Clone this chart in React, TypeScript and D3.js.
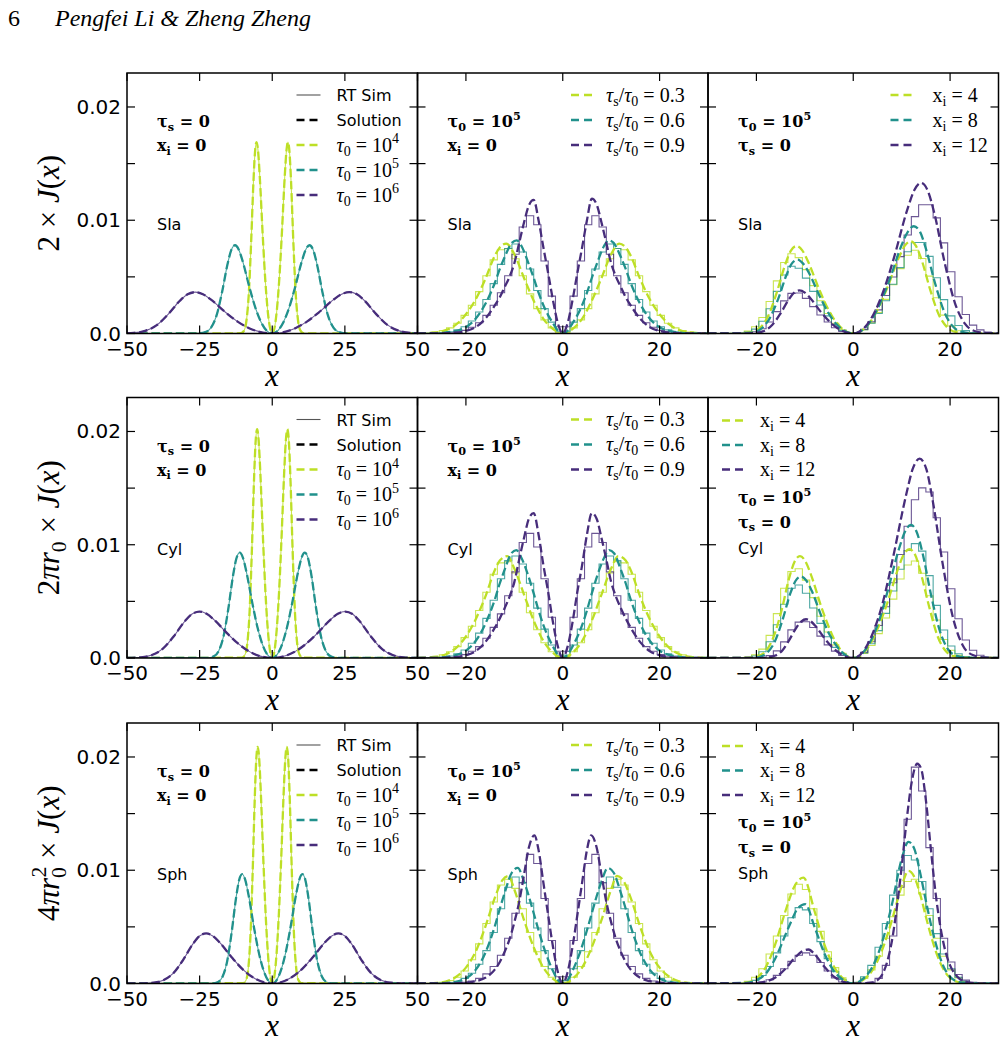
import * as d3 from "d3";

// ---- series styling / labels ----
const COLORS = ["#bddf26", "#21918c", "#472d7b"];
const SIM_GRAY = "#555555";
const geomNames = ["Sla", "Cyl", "Sph"];
const tau0Exps = ["4", "5", "6"];
const scatRatios = ["0.3", "0.6", "0.9"];
const xiValues = ["4", "8", "12"];

// ---- axes ----
const yTicks = [0, 0.005, 0.01, 0.015, 0.02];
const yTickLabels = [
  { v: 0, t: "0.0" },
  { v: 0.01, t: "0.01" },
  { v: 0.02, t: "0.02" },
];
const xTicksWide = [-50, -25, 0, 25, 50];
const xTicksNarrow = [-20, 0, 20];
const HIST_START = -30;
const HIST_WIDTH = 1.5;
const Y_UNIT = 1e-3; // all J values below are in units of 1e-3

// ---- left column: tau0 = 1e4, 1e5, 1e6 (x, J) ----
const slaTau4 = [[-50,0],[-10.8,0.02],[-9.72,0.25],[-8.91,1.08],[-8.1,3.41],[-7.29,7.91],[-6.48,13.37],[-5.94,16.0],[-5.4,16.9],[-4.86,16.06],[-4.32,13.96],[-3.24,8.48],[-2.43,4.85],[-1.62,2.16],[0,0],[1.62,2.16],[2.43,4.85],[3.24,8.48],[4.32,13.96],[4.86,16.06],[5.4,16.9],[5.94,16.0],[6.48,13.37],[7.29,7.91],[8.1,3.41],[8.91,1.08],[9.72,0.25],[10.8,0.02],[50,0]];
const slaTau5 = [[-50,0],[-25.6,0.01],[-23.04,0.12],[-21.12,0.5],[-19.2,1.57],[-17.28,3.65],[-15.36,6.16],[-14.08,7.38],[-12.8,7.79],[-11.52,7.4],[-10.24,6.43],[-7.68,3.91],[-5.76,2.24],[-3.84,1.0],[0,0],[3.84,1.0],[5.76,2.24],[7.68,3.91],[10.24,6.43],[11.52,7.4],[12.8,7.79],[14.08,7.38],[15.36,6.16],[17.28,3.65],[19.2,1.57],[21.12,0.5],[23.04,0.12],[25.6,0.01],[50,0]];
const slaTau6 = [[-50,0.03],[-47.7,0.055],[-43.73,0.23],[-39.75,0.74],[-35.78,1.71],[-31.8,2.89],[-29.15,3.46],[-26.5,3.65],[-23.85,3.47],[-21.2,3.01],[-15.9,1.83],[-11.93,1.05],[-7.95,0.47],[0,0],[7.95,0.47],[11.93,1.05],[15.9,1.83],[21.2,3.01],[23.85,3.47],[26.5,3.65],[29.15,3.46],[31.8,2.89],[35.78,1.71],[39.75,0.74],[43.73,0.23],[47.7,0.055],[50,0.03]];
const cylTau4 = [[-50,0],[-10.4,0.03],[-9.36,0.3],[-8.58,1.29],[-7.8,4.08],[-7.02,9.45],[-6.24,15.98],[-5.72,19.13],[-5.2,20.2],[-4.68,19.19],[-4.16,16.69],[-3.12,10.14],[-2.34,5.8],[-1.56,2.59],[0,0],[1.56,2.59],[2.34,5.8],[3.12,10.14],[4.16,16.69],[4.68,19.19],[5.2,20.2],[5.72,19.13],[6.24,15.98],[7.02,9.45],[7.8,4.08],[8.58,1.29],[9.36,0.3],[10.4,0.03],[50,0]];
const cylTau5 = [[-50,0],[-22.4,0.01],[-20.16,0.14],[-18.48,0.6],[-16.8,1.88],[-15.12,4.35],[-13.44,7.36],[-12.32,8.81],[-11.2,9.3],[-10.08,8.84],[-8.96,7.68],[-6.72,4.67],[-5.04,2.67],[-3.36,1.19],[0,0],[3.36,1.19],[5.04,2.67],[6.72,4.67],[8.96,7.68],[10.08,8.84],[11.2,9.3],[12.32,8.81],[13.44,7.36],[15.12,4.35],[16.8,1.88],[18.48,0.6],[20.16,0.14],[22.4,0.01],[50,0]];
const cylTau6 = [[-50,0.005],[-45.18,0.06],[-41.42,0.26],[-37.65,0.83],[-33.89,1.92],[-30.12,3.24],[-27.61,3.88],[-25.1,4.1],[-22.59,3.9],[-20.08,3.39],[-15.06,2.06],[-11.3,1.18],[-7.53,0.52],[0,0],[7.53,0.52],[11.3,1.18],[15.06,2.06],[20.08,3.39],[22.59,3.9],[25.1,4.1],[27.61,3.88],[30.12,3.24],[33.89,1.92],[37.65,0.83],[41.42,0.26],[45.18,0.06],[50,0.005]];
const sphTau4 = [[-50,0],[-10,0.03],[-9,0.31],[-8.25,1.34],[-7.5,4.22],[-6.75,9.78],[-6,16.53],[-5.5,19.79],[-5,20.9],[-4.5,19.86],[-4,17.26],[-3,10.49],[-2.25,6.0],[-1.5,2.68],[0,0],[1.5,2.68],[2.25,6.0],[3,10.49],[4,17.26],[4.5,19.86],[5,20.9],[5.5,19.79],[6,16.53],[6.75,9.78],[7.5,4.22],[8.25,1.34],[9,0.31],[10,0.03],[50,0]];
const sphTau5 = [[-50,0],[-20.7,0.01],[-18.63,0.14],[-17.08,0.62],[-15.53,1.95],[-13.97,4.52],[-12.42,7.63],[-11.39,9.14],[-10.35,9.65],[-9.32,9.17],[-8.28,7.97],[-6.21,4.84],[-4.66,2.77],[-3.1,1.24],[0,0],[3.1,1.24],[4.66,2.77],[6.21,4.84],[8.28,7.97],[9.32,9.17],[10.35,9.65],[11.39,9.14],[12.42,7.63],[13.97,4.52],[15.53,1.95],[17.08,0.62],[18.63,0.14],[20.7,0.01],[50,0]];
const sphTau6 = [[-50,0],[-45.5,0.006],[-40.95,0.07],[-37.54,0.28],[-34.13,0.89],[-30.71,2.07],[-27.3,3.5],[-25.03,4.19],[-22.75,4.42],[-20.48,4.2],[-18.2,3.65],[-13.65,2.22],[-10.24,1.27],[-6.83,0.57],[0,0],[6.83,0.57],[10.24,1.27],[13.65,2.22],[18.2,3.65],[20.48,4.2],[22.75,4.42],[25.03,4.19],[27.3,3.5],[30.71,2.07],[34.13,0.89],[37.54,0.28],[40.95,0.07],[45.5,0.006],[50,0]];

// ---- middle column: tau_s/tau0 = 0.3, 0.6, 0.9 ----
const slaScat03 = [[-30,0],[-29,0.02],[-26,0.1],[-24,0.32],[-22,0.8],[-20,1.7],[-18,3.0],[-16,4.8],[-14,6.9],[-13,7.6],[-11.65,7.94],[-10,7.0],[-8,4.9],[-6,2.9],[-4,1.3],[-2,0.4],[0,0],[2,0.4],[4,1.3],[6,2.9],[8,4.9],[10,7.0],[11.65,7.94],[13,7.6],[14,6.9],[16,4.8],[18,3.0],[20,1.7],[22,0.8],[24,0.32],[26,0.1],[29,0.02],[30,0]];
const slaScat06 = [[-30,0],[-27,0],[-23,0.15],[-20,0.56],[-18,1.3],[-16,2.6],[-14,4.5],[-13,5.7],[-12,6.75],[-10.5,8.0],[-9.5,8.23],[-8.5,7.7],[-7,6.1],[-6,4.9],[-5,3.6],[-4,2.5],[-3,1.6],[-2,0.9],[-1,0.25],[0,0],[1,0.25],[2,0.9],[3,1.6],[4,2.5],[5,3.6],[6,4.9],[7,6.1],[8.5,7.7],[9.5,8.23],[10.5,8.0],[12,6.75],[13,5.7],[14,4.5],[16,2.6],[18,1.3],[20,0.56],[23,0.15],[27,0],[30,0]];
const slaScat09 = [[-30,0],[-27,0],[-23,0.05],[-20,0.22],[-18,0.56],[-16,1.3],[-14,2.5],[-13,3.2],[-12,4.1],[-11,5.0],[-10,6.2],[-9,8.0],[-8,9.8],[-7,11.3],[-6,11.8],[-5,10.0],[-4,7.6],[-3,5.3],[-2,2.9],[-1,0.9],[0,0],[1,0.9],[2,2.9],[3,5.3],[4,7.6],[5,10.0],[6,11.9],[7,11.4],[8,9.8],[9,8.0],[10,6.2],[11,5.0],[12,4.1],[13,3.2],[14,2.5],[16,1.3],[18,0.56],[20,0.22],[23,0.05],[27,0],[30,0]];
const cylScat03 = [[-30,0],[-29,0.02],[-26,0.11],[-24,0.36],[-22,0.9],[-20,1.9],[-18,3.4],[-16,5.4],[-14,7.8],[-13,8.6],[-11.45,9.0],[-10,7.9],[-8,5.6],[-6,3.3],[-4,1.5],[-2,0.45],[0,0],[2,0.45],[4,1.5],[6,3.3],[8,5.6],[10,7.9],[11.45,9.0],[13,8.6],[14,7.8],[16,5.4],[18,3.4],[20,1.9],[22,0.9],[24,0.36],[26,0.11],[29,0.02],[30,0]];
const cylScat06 = [[-30,0],[-27,0],[-23,0.17],[-20,0.65],[-18,1.5],[-16,3.0],[-14,5.2],[-13,6.6],[-12,7.8],[-10.6,9.25],[-9.6,9.53],[-8.6,8.9],[-7,7.1],[-6,5.7],[-5,4.2],[-4,2.9],[-3,1.85],[-2,1.0],[-1,0.3],[0,0],[1,0.3],[2,1.0],[3,1.85],[4,2.9],[5,4.2],[6,5.7],[7,7.1],[8.6,8.9],[9.6,9.53],[10.6,9.25],[12,7.8],[13,6.6],[14,5.2],[16,3.0],[18,1.5],[20,0.65],[23,0.17],[27,0],[30,0]];
const cylScat09 = [[-30,0],[-27,0],[-23,0.05],[-20,0.24],[-18,0.6],[-16,1.4],[-14,2.7],[-13,3.5],[-12,4.4],[-11,5.4],[-10,6.7],[-9,8.7],[-8,10.6],[-7,12.3],[-6,12.8],[-5,10.9],[-4,8.2],[-3,5.8],[-2,3.1],[-1,1.0],[0,0],[1,1.0],[2,3.1],[3,5.8],[4,8.2],[5,10.9],[6,12.8],[7,12.3],[8,10.6],[9,8.7],[10,6.7],[11,5.4],[12,4.4],[13,3.5],[14,2.7],[16,1.4],[18,0.6],[20,0.24],[23,0.05],[27,0],[30,0]];
const sphScat03 = [[-30,0],[-29,0],[-26,0.06],[-24,0.2],[-22,0.6],[-20,1.4],[-18,2.8],[-16,5.0],[-14,7.6],[-12.5,9.1],[-11.2,9.5],[-10,8.3],[-8,5.6],[-6,3.2],[-4,1.4],[-2,0.4],[0,0],[2,0.4],[4,1.4],[6,3.2],[8,5.6],[10,8.3],[11.2,9.5],[12.5,9.1],[14,7.6],[16,5.0],[18,2.8],[20,1.4],[22,0.6],[24,0.2],[26,0.06],[29,0],[30,0]];
const sphScat06 = [[-30,0],[-25,0.02],[-22,0.15],[-20,0.45],[-18,1.2],[-16,2.7],[-15,3.8],[-14,5.1],[-13,6.6],[-12,8.0],[-10.5,9.8],[-9.3,10.2],[-8,9.0],[-7,7.7],[-6,6.2],[-5,4.7],[-4,3.3],[-3,2.1],[-2,1.1],[-1,0.3],[0,0],[1,0.3],[2,1.1],[3,2.1],[4,3.3],[5,4.7],[6,6.2],[7,7.7],[8,9.0],[9.3,10.2],[10.5,9.8],[12,8.0],[13,6.6],[14,5.1],[15,3.8],[16,2.7],[18,1.2],[20,0.45],[22,0.15],[25,0.02],[30,0]];
const sphScat09 = [[-30,0],[-23,0.01],[-20,0.07],[-18,0.2],[-16,0.5],[-15,0.8],[-14,1.25],[-13,1.9],[-12,2.8],[-11,3.9],[-10,5.4],[-9,7.2],[-8,9.6],[-7,12.0],[-5.86,13.07],[-5,11.8],[-4,8.9],[-3,6.0],[-2,3.2],[-1,1.0],[0,0],[1,1.0],[2,3.2],[3,6.0],[4,8.9],[5,11.8],[5.86,13.07],[7,12.0],[8,9.6],[9,7.2],[10,5.4],[11,3.9],[12,2.8],[13,1.9],[14,1.25],[15,0.8],[16,0.5],[18,0.2],[20,0.07],[23,0.01],[30,0]];

// RT histograms, 40 bins of width 1.5 from x = -30
const slaScat03Hist = [0.02,0.05,0.12,0.25,0.5,0.9,1.6,2.5,3.7,5.1,6.5,7.4,7.5,6.6,5.1,3.5,2.2,1.2,0.5,0.1,0.1,0.5,1.2,2.2,3.5,5.1,6.6,7.5,7.4,6.5,5.1,3.7,2.5,1.6,0.9,0.5,0.25,0.12,0.05,0.02];
const slaScat06Hist = [0,0.01,0.03,0.08,0.16,0.32,0.6,1.1,1.9,3.0,4.4,6.1,7.5,7.9,7.2,5.7,3.8,2.2,1.0,0.2,0.2,1.0,2.2,3.8,5.7,7.2,7.9,7.5,6.1,4.4,3.0,1.9,1.1,0.6,0.32,0.16,0.08,0.03,0.01,0];
const slaScat09Hist = [0,0,0.01,0.02,0.07,0.14,0.28,0.55,0.95,1.6,2.5,3.6,5.1,7.0,9.4,10.4,9.6,6.4,3.3,0.6,0.6,3.3,6.4,9.6,10.4,9.4,7.0,5.1,3.6,2.5,1.6,0.95,0.55,0.28,0.14,0.07,0.02,0.01,0,0];
const cylScat03Hist = [0.02,0.05,0.13,0.28,0.55,1.0,1.8,2.8,4.2,5.8,7.4,8.4,8.5,7.5,5.8,4.0,2.5,1.35,0.55,0.1,0.1,0.55,1.35,2.5,4.0,5.8,7.5,8.5,8.4,7.4,5.8,4.2,2.8,1.8,1.0,0.55,0.28,0.13,0.05,0.02];
const cylScat06Hist = [0,0.01,0.03,0.09,0.18,0.37,0.7,1.3,2.2,3.5,5.1,7.0,8.6,9.0,8.3,6.6,4.4,2.55,1.15,0.25,0.25,1.15,2.55,4.4,6.6,8.3,9.0,8.6,7.0,5.1,3.5,2.2,1.3,0.7,0.37,0.18,0.09,0.03,0.01,0];
const cylScat09Hist = [0,0,0.01,0.03,0.07,0.15,0.3,0.6,1.0,1.75,2.7,3.9,5.5,7.6,10.2,11.0,9.8,7.0,3.6,0.6,0.6,3.6,7.0,9.8,11.0,10.2,7.6,5.5,3.9,2.7,1.75,1.0,0.6,0.3,0.15,0.07,0.03,0.01,0,0];
const sphScat03Hist = [0,0.01,0.04,0.1,0.25,0.55,1.1,2.1,3.5,5.3,7.2,8.7,9.2,8.4,6.6,4.5,2.8,1.5,0.55,0.1,0.1,0.55,1.5,2.8,4.5,6.6,8.4,9.2,8.7,7.2,5.3,3.5,2.1,1.1,0.55,0.25,0.1,0.04,0.01,0];
const sphScat06Hist = [0,0,0.01,0.03,0.09,0.2,0.45,0.9,1.7,2.9,4.5,6.6,8.5,9.4,8.9,7.1,4.9,2.9,1.3,0.25,0.25,1.3,2.9,4.9,7.1,8.9,9.4,8.5,6.6,4.5,2.9,1.7,0.9,0.45,0.2,0.09,0.03,0.01,0,0];
const sphScat09Hist = [0,0,0,0,0.02,0.05,0.1,0.22,0.45,0.85,1.5,2.5,4.0,6.2,8.9,11.4,10.6,7.5,3.8,0.6,0.6,3.8,7.5,10.6,11.4,8.9,6.2,4.0,2.5,1.5,0.85,0.45,0.22,0.1,0.05,0.02,0,0,0,0];

// ---- right column: x_i = 4, 8, 12 ----
const slaXi4 = [[-30,0],[-23.4,0.01],[-21.1,0.12],[-19.3,0.49],[-17.55,1.56],[-15.8,3.62],[-14.04,6.11],[-12.87,7.32],[-11.7,7.73],[-10.53,7.34],[-9.36,6.38],[-7.02,3.88],[-5.27,2.22],[-3.51,0.99],[0,0],[3.54,1.04],[5.31,2.34],[7.08,4.09],[9.44,6.72],[10.62,7.73],[11.8,8.14],[12.98,7.71],[14.16,6.44],[15.93,3.81],[17.7,1.64],[19.47,0.52],[21.24,0.12],[23.6,0.01],[30,0]];
const slaXi8 = [[-30,0],[-23,0.01],[-20.7,0.1],[-19,0.42],[-17.3,1.32],[-15.5,3.05],[-13.8,5.16],[-12.7,6.17],[-11.5,6.52],[-10.4,6.19],[-9.2,5.39],[-6.9,3.27],[-5.2,1.87],[-3.5,0.83],[0,0],[3.8,1.21],[5.6,2.72],[7.5,4.75],[10,7.82],[11.3,9.0],[12.5,9.47],[13.8,8.97],[15,7.49],[16.9,4.43],[18.8,1.91],[20.6,0.61],[22.5,0.14],[25,0.01],[30,0]];
const slaXi12 = [[-30,0],[-22.2,0],[-20,0.06],[-18.3,0.24],[-16.7,0.77],[-15,1.78],[-13.3,3.01],[-12.2,3.6],[-11.1,3.8],[-10,3.61],[-8.9,3.14],[-6.7,1.91],[-5,1.09],[-3.3,0.49],[0,0],[4.2,1.7],[6.3,3.82],[8.4,6.68],[11.2,10.99],[12.6,12.64],[14,13.3],[15.4,12.6],[16.8,10.52],[18.9,6.22],[21,2.69],[23.1,0.85],[25.2,0.2],[28,0.02],[30,0]];
const cylXi4 = [[-30,0],[-21.9,0.01],[-19.8,0.14],[-18.1,0.58],[-16.5,1.82],[-14.8,4.21],[-13.2,7.12],[-12.1,8.52],[-11,9.0],[-9.9,8.55],[-8.8,7.43],[-6.6,4.52],[-4.9,2.58],[-3.3,1.15],[0,0],[3.5,1.23],[5.2,2.76],[7,4.82],[9.3,7.93],[10.4,9.12],[11.6,9.6],[12.8,9.09],[13.9,7.59],[15.7,4.49],[17.4,1.94],[19.1,0.61],[20.9,0.14],[23.2,0.01],[30,0]];
const cylXi8 = [[-30,0],[-21.6,0.01],[-19.4,0.11],[-17.8,0.46],[-16.2,1.45],[-14.6,3.37],[-13,5.7],[-11.9,6.82],[-10.8,7.2],[-9.7,6.84],[-8.6,5.95],[-6.5,3.61],[-4.9,2.07],[-3.2,0.92],[0,0],[3.6,1.5],[5.4,3.37],[7.1,5.9],[9.5,9.71],[10.7,11.16],[11.9,11.75],[13.1,11.13],[14.3,9.29],[16.1,5.5],[17.9,2.37],[19.6,0.75],[21.4,0.18],[23.8,0.02],[30,0]];
const cylXi12 = [[-30,0],[-19.5,0],[-17.6,0.05],[-16.1,0.22],[-14.6,0.69],[-13.2,1.6],[-11.7,2.71],[-10.7,3.24],[-9.75,3.42],[-8.8,3.25],[-7.8,2.82],[-5.9,1.72],[-4.4,0.98],[-2.9,0.44],[0,0],[4.1,2.25],[6.2,5.05],[8.2,8.84],[11,14.54],[12.3,16.72],[13.7,17.6],[15.1,16.67],[16.4,13.92],[18.5,8.24],[20.6,3.56],[22.6,1.13],[24.7,0.26],[27.4,0.02],[30,0]];
const sphXi4 = [[-30,0],[-25,0],[-22,0.1],[-20,0.45],[-18,1.5],[-16,3.6],[-15,5.0],[-14,6.4],[-12,8.7],[-10.3,9.35],[-8,6.4],[-6,3.5],[-4,1.5],[-2,0.4],[0,0],[2,0.3],[4,1.2],[6,3.0],[8,5.6],[10,8.6],[11.4,9.94],[12.5,9.5],[14,7.6],[15,5.9],[16,4.3],[17,2.9],[18,1.8],[19,1.0],[20,0.5],[22,0.1],[24,0.02],[30,0]];
const sphXi8 = [[-30,0],[-22,0.06],[-20,0.3],[-18,0.9],[-16,2.3],[-14,4.3],[-13,5.3],[-11.5,6.6],[-9.9,7.0],[-8,5.0],[-6,2.7],[-4,1.1],[-2,0.3],[0,0],[2,0.4],[4,1.5],[6,3.7],[8,7.0],[10,11.0],[11.4,12.5],[12.5,12.0],[14,9.4],[15,7.3],[16,5.3],[17,3.6],[18,2.2],[19,1.2],[20,0.6],[22,0.12],[24,0.02],[30,0]];
const sphXi12 = [[-30,0],[-22,0],[-20,0.05],[-18,0.18],[-16,0.55],[-14,1.3],[-12,2.3],[-10.5,2.85],[-9.25,3.0],[-8,2.6],[-6,1.5],[-4,0.6],[-2,0.15],[0,0],[4,0.1],[5,0.3],[6,0.8],[7,1.9],[8,3.8],[9,6.7],[10,10.3],[11,14.3],[12,17.6],[13.2,19.4],[14,19.0],[15,16.2],[16,12.0],[17,8.0],[18,5.0],[19,2.9],[20,1.6],[21,0.85],[22,0.4],[24,0.08],[26,0.01],[30,0]];

const slaXi4Hist = [0,0,0,0.01,0.06,0.21,0.6,1.41,2.82,4.65,6.27,7.04,6.7,5.64,4.23,2.89,1.76,0.9,0.32,0.04,0.04,0.34,0.94,1.84,3.01,4.3,5.73,6.91,7.35,6.62,5.07,3.16,1.62,0.66,0.24,0.07,0.01,0,0,0];
const slaXi8Hist = [0,0,0,0.01,0.04,0.13,0.39,1.08,2.19,3.72,5.16,5.94,5.76,4.89,3.72,2.52,1.56,0.78,0.28,0.03,0.03,0.33,0.9,1.76,2.89,4.35,5.82,7.22,8.04,8.04,6.81,4.92,2.99,1.56,0.7,0.25,0.08,0.02,0,0];
const slaXi12Hist = [0,0,0,0,0.01,0.04,0.15,0.42,1.02,1.93,2.88,3.54,3.58,3.1,2.37,1.64,1.02,0.51,0.18,0.02,0.04,0.37,1.04,2.09,3.36,4.99,6.79,8.7,10.32,11.37,11.37,10.21,8.0,5.45,3.25,1.68,0.74,0.32,0.12,0.03];
const cylXi4Hist = [0,0,0,0,0.02,0.08,0.28,0.78,2.0,3.92,6.16,7.64,7.88,6.88,5.33,3.68,2.3,1.16,0.42,0.05,0.04,0.4,1.1,2.15,3.53,5.2,6.97,8.21,8.56,7.48,5.5,3.35,1.63,0.69,0.23,0.07,0.02,0,0,0];
const cylXi8Hist = [0,0,0,0,0.01,0.05,0.18,0.55,1.43,2.93,4.75,6.16,6.44,5.72,4.42,3.06,1.87,0.94,0.36,0.04,0.05,0.45,1.26,2.42,3.94,5.91,7.83,9.49,10.1,9.44,7.27,4.65,2.47,1.06,0.37,0.12,0.03,0,0,0];
const cylXi12Hist = [0,0,0,0,0,0,0.01,0.05,0.21,0.63,1.42,2.48,3.17,3.2,2.69,1.93,1.16,0.61,0.22,0.02,0.06,0.51,1.43,2.87,4.53,6.64,9.14,11.63,13.97,15.02,14.65,12.38,9.36,6.12,3.47,1.59,0.68,0.24,0.08,0.02];
const sphXi4Hist = [0,0,0,0.02,0.06,0.2,0.55,1.3,2.6,4.2,6.0,7.9,8.76,8.3,6.6,4.6,2.8,1.4,0.5,0.08,0.06,0.45,1.2,2.4,4.0,5.9,7.8,9.0,9.2,7.9,6.0,4.0,2.4,1.2,0.5,0.18,0.06,0.02,0,0];
const sphXi8Hist = [0,0,0,0,0.02,0.08,0.28,0.7,1.5,2.7,4.2,5.8,6.7,6.5,5.3,3.7,2.2,1.05,0.35,0.05,0.1,0.6,1.6,3.2,5.3,7.8,10.0,11.3,10.9,9.0,6.6,4.4,2.6,1.3,0.55,0.2,0.06,0.02,0,0];
const sphXi12Hist = [0,0,0,0,0,0.01,0.04,0.13,0.33,0.72,1.3,1.95,2.5,2.7,2.5,1.85,1.1,0.5,0.13,0.02,0,0.02,0.1,0.45,1.6,4.2,8.5,14.5,19.1,17.0,12.0,7.5,4.0,1.9,0.8,0.3,0.1,0.03,0,0];

const solutionTable = [
  [[slaTau4, slaTau5, slaTau6], [slaScat03, slaScat06, slaScat09], [slaXi4, slaXi8, slaXi12]],
  [[cylTau4, cylTau5, cylTau6], [cylScat03, cylScat06, cylScat09], [cylXi4, cylXi8, cylXi12]],
  [[sphTau4, sphTau5, sphTau6], [sphScat03, sphScat06, sphScat09], [sphXi4, sphXi8, sphXi12]],
];
const histTable = [
  [null, [slaScat03Hist, slaScat06Hist, slaScat09Hist], [slaXi4Hist, slaXi8Hist, slaXi12Hist]],
  [null, [cylScat03Hist, cylScat06Hist, cylScat09Hist], [cylXi4Hist, cylXi8Hist, cylXi12Hist]],
  [null, [sphScat03Hist, sphScat06Hist, sphScat09Hist], [sphXi4Hist, sphXi8Hist, sphXi12Hist]],
];

// ---- layout ----
const LEFTS = [127, 417.5, 708];
const TOPS = [73, 397.5, 723];
const PW = 290.5;
const PH = 260.5;
const SANS = "'DejaVu Sans', sans-serif";
const SERIF = "'Liberation Serif', 'DejaVu Serif', serif";
const BOLD_SERIF = "'DejaVu Serif', serif";
const DASH = "8.5,3.7";

type Seg = { t: string; i?: boolean; b?: "sub" | "sup"; dx?: number };

function tspans(segs: Seg[], size: number) {
  let cur = 0;
  return segs.map((s, k) => {
    const target = s.b === "sub" ? size * 0.22 : s.b === "sup" ? -size * 0.42 : 0;
    const dy = target - cur;
    cur = target;
    return (
      <tspan
        key={k}
        dy={dy || undefined}
        dx={s.dx}
        fontStyle={s.i ? "italic" : undefined}
        fontSize={s.b ? size * 0.7 : undefined}
      >
        {s.t}
      </tspan>
    );
  });
}

const yLabelSegs: Seg[][] = [
  [{ t: "2 × " }, { t: "J", i: true }, { t: "(" }, { t: "x", i: true }, { t: ")" }],
  [{ t: "2" }, { t: "πr", i: true }, { t: "0", b: "sub" }, { t: " × " }, { t: "J", i: true }, { t: "(" }, { t: "x", i: true }, { t: ")" }],
  [{ t: "4" }, { t: "πr", i: true }, { t: "0", b: "sub" }, { t: "2", b: "sup", dx: -10.5 }, { t: " × " }, { t: "J", i: true }, { t: "(" }, { t: "x", i: true }, { t: ")" }],
];

function legendSegs(col: number, k: number): Seg[] {
  if (col === 0) return [{ t: "τ", i: true }, { t: "0", b: "sub" }, { t: " = 10" }, { t: tau0Exps[k], b: "sup" }];
  if (col === 1) return [{ t: "τ", i: true }, { t: "s", b: "sub" }, { t: "/" }, { t: "τ", i: true }, { t: "0", b: "sub" }, { t: " = " + scatRatios[k] }];
  return [{ t: "x" }, { t: "i", b: "sub" }, { t: " = " + xiValues[k] }];
}

const tauS0: Seg[] = [{ t: "τ" }, { t: "s", b: "sub" }, { t: " = 0" }];
const xi0: Seg[] = [{ t: "x" }, { t: "i", b: "sub" }, { t: " = 0" }];
const tau05: Seg[] = [{ t: "τ" }, { t: "0", b: "sub" }, { t: " = 10" }, { t: "5", b: "sup" }];

function Panel({ row, col }: { row: number; col: number }) {
  const left = LEFTS[col];
  const top = TOPS[row];
  const bottom = top + PH;
  const right = left + PW;
  const x = d3.scaleLinear().domain(col === 0 ? [-50, 50] : [-30, 30]).range([left, right]);
  const y = d3.scaleLinear().domain([0, 0.023]).range([bottom, top]);
  const xTicks = col === 0 ? xTicksWide : xTicksNarrow;

  const line = d3
    .line<number[]>()
    .x((d) => x(d[0]))
    .y((d) => y(d[1] * Y_UNIT))
    .curve(d3.curveMonotoneX);
  const step = d3
    .line<number[]>()
    .x((d) => x(d[0]))
    .y((d) => y(d[1] * Y_UNIT))
    .curve(d3.curveStepAfter);

  const sols = solutionTable[row][col];
  const hists = histTable[row][col];
  const clipId = `clip-${row}-${col}`;

  // legend placement
  let hx0: number, tx: number, ly0: number, lstep: number;
  if (col === 0) { hx0 = right - 121; tx = right - 81; ly0 = top + 22; lstep = 25; }
  else if (col === 1) { hx0 = right - 137; tx = right - 102; ly0 = top + 22; lstep = 25; }
  else if (row === 0) { hx0 = right - 108; tx = right - 66; ly0 = top + 22; lstep = 25; }
  else { hx0 = left + 14; tx = left + 52; ly0 = top + 23; lstep = 24.5; }

  const legendRows: { kind: "sim" | "sol" | "series"; k: number }[] =
    col === 0
      ? [{ kind: "sim", k: 0 }, { kind: "sol", k: 0 }, { kind: "series", k: 0 }, { kind: "series", k: 1 }, { kind: "series", k: 2 }]
      : [{ kind: "series", k: 0 }, { kind: "series", k: 1 }, { kind: "series", k: 2 }];

  // annotations
  let notes: { segs: Seg[]; dy: number; bold: boolean }[];
  const geom = [{ t: geomNames[row] }];
  if (col === 0) notes = [{ segs: tauS0, dy: 48, bold: true }, { segs: xi0, dy: 72, bold: true }, { segs: geom, dy: 151, bold: false }];
  else if (col === 1) notes = [{ segs: tau05, dy: 48, bold: true }, { segs: xi0, dy: 72, bold: true }, { segs: geom, dy: 151, bold: false }];
  else if (row === 0) notes = [{ segs: tau05, dy: 48, bold: true }, { segs: tauS0, dy: 72, bold: true }, { segs: geom, dy: 151, bold: false }];
  else notes = [{ segs: tau05, dy: 99, bold: true }, { segs: tauS0, dy: 124, bold: true }, { segs: geom, dy: 150, bold: false }];

  return (
    <g>
      <defs>
        <clipPath id={clipId}>
          <rect x={left} y={top} width={PW} height={PH} />
        </clipPath>
      </defs>
      <g clipPath={`url(#${clipId})`}>
        {hists
          ? hists.map((h, k) => {
              const pts = h.map((v, i) => [HIST_START + i * HIST_WIDTH, v]);
              pts.push([HIST_START + h.length * HIST_WIDTH, h[h.length - 1]]);
              return <path key={"h" + k} d={step(pts) || ""} fill="none" stroke={COLORS[k]} strokeWidth={1.1} strokeOpacity={0.8} />;
            })
          : sols.map((s, k) => (
              <path key={"s" + k} d={line(s) || ""} fill="none" stroke={COLORS[k]} strokeWidth={1.1} strokeOpacity={0.8} />
            ))}
        {sols.map((s, k) => (
          <path key={"d" + k} d={line(s) || ""} fill="none" stroke={COLORS[k]} strokeWidth={2.3} strokeDasharray={DASH} />
        ))}
      </g>

      {/* ticks, all four sides, inward */}
      {yTicks.map((t) => (
        <g key={"yt" + t} stroke="#000" strokeWidth={1.2}>
          <line x1={left} x2={left + 8} y1={y(t)} y2={y(t)} />
          <line x1={right} x2={right - 8} y1={y(t)} y2={y(t)} />
        </g>
      ))}
      {xTicks.map((t) => (
        <g key={"xt" + t} stroke="#000" strokeWidth={1.2}>
          <line x1={x(t)} x2={x(t)} y1={bottom} y2={bottom - 8} />
          <line x1={x(t)} x2={x(t)} y1={top} y2={top + 8} />
        </g>
      ))}
      <rect x={left} y={top} width={PW} height={PH} fill="none" stroke="#000" strokeWidth={1.5} />

      {/* tick labels */}
      {xTicks.map((t) => (
        <text key={"xl" + t} x={x(t)} y={bottom + 22} textAnchor="middle" fontFamily={SANS} fontSize={20}>
          {t < 0 ? "−" + Math.abs(t) : String(t)}
        </text>
      ))}
      {col === 0 &&
        yTickLabels.map((t) => (
          <text key={"yl" + t.v} x={left - 6} y={y(t.v) + 7} textAnchor="end" fontFamily={SANS} fontSize={20}>
            {t.t}
          </text>
        ))}

      {/* axis labels */}
      <text x={(left + right) / 2} y={bottom + 52} textAnchor="middle" fontFamily={SERIF} fontStyle="italic" fontSize={31}>
        x
      </text>
      {col === 0 && (
        <text transform={`translate(${59},${(top + bottom) / 2}) rotate(-90)`} textAnchor="middle" fontFamily={SERIF} fontSize={31}>
          {tspans(yLabelSegs[row], 31)}
        </text>
      )}

      {/* legend */}
      {legendRows.map((r, i) => {
        const ly = ly0 + i * lstep;
        const stroke = r.kind === "sim" ? SIM_GRAY : r.kind === "sol" ? "#000" : COLORS[r.k];
        return (
          <g key={"lg" + i}>
            <line
              x1={hx0}
              x2={hx0 + 24}
              y1={ly}
              y2={ly}
              stroke={stroke}
              strokeWidth={r.kind === "sim" ? 1.1 : 2.3}
              strokeDasharray={r.kind === "sim" ? undefined : "8,5"}
            />
            {r.kind === "series" ? (
              <text x={tx} y={ly + 6.5} fontFamily={SERIF} fontSize={20}>
                {tspans(legendSegs(col, r.k), 20)}
              </text>
            ) : (
              <text x={tx} y={ly + 6} fontFamily={SANS} fontSize={16}>
                {r.kind === "sim" ? "RT Sim" : "Solution"}
              </text>
            )}
          </g>
        );
      })}

      {/* annotations */}
      {notes.map((n, i) =>
        n.bold ? (
          <text key={"n" + i} x={left + 30} y={top + n.dy + 6} fontFamily={BOLD_SERIF} fontWeight="bold" fontSize={16}>
            {tspans(n.segs, 16)}
          </text>
        ) : (
          <text key={"n" + i} x={left + 30} y={top + n.dy + 6} fontFamily={SANS} fontSize={16}>
            {n.segs[0].t}
          </text>
        )
      )}
    </g>
  );
}

export default function App() {
  const cells: { row: number; col: number }[] = [];
  for (let r = 0; r < 3; r++) for (let c = 0; c < 3; c++) cells.push({ row: r, col: c });
  return (
    <svg
      width={1006}
      height={1044}
      style={{ position: "absolute", left: 0, top: 0, background: "#fff" }}
      xmlns="http://www.w3.org/2000/svg"
    >
      <rect width={1006} height={1044} fill="#fff" />
      <text x={8} y={26} fontFamily={SERIF} fontSize={24}>6</text>
      <text x={55} y={26} fontFamily={SERIF} fontStyle="italic" fontSize={24}>Pengfei Li &amp; Zheng Zheng</text>
      {cells.map((c) => (
        <Panel key={`${c.row}-${c.col}`} row={c.row} col={c.col} />
      ))}
    </svg>
  );
}
